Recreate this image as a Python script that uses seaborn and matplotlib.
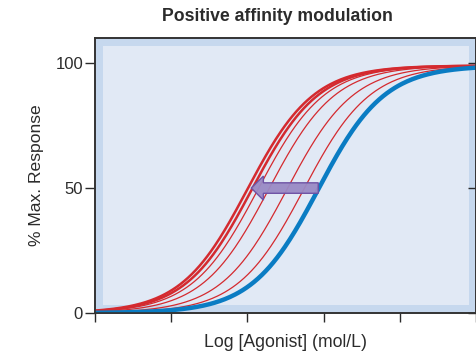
import numpy as np
import pandas as pd
import matplotlib as mpl
mpl.use("Agg")
import matplotlib.pyplot as plt
from matplotlib.patches import Rectangle, FancyArrow
import seaborn as sns

# Concentration-response curves (log EC50, Hill slope 1)
control_ec50 = 2.93
modulated_ec50 = [2.0, 2.06, 2.14, 2.28, 2.52, 2.74]
modulated_widths = [1.8, 1.8, 0.9, 0.9, 0.9, 0.9]
emax = 99.0
x_ticks = [0, 1, 2, 3, 4, 5]
y_ticks = [0, 50, 100]

log_conc = np.linspace(0, 5, 300)


def hill(x, ec50):
    return emax / (1 + 10 ** (ec50 - x))


rows = []
for i, ec in enumerate(modulated_ec50):
    rows.append(pd.DataFrame({"x": log_conc, "y": hill(log_conc, ec), "curve": f"mod{i}"}))
df_mod = pd.concat(rows)
df_ctrl = pd.DataFrame({"x": log_conc, "y": hill(log_conc, control_ec50)})

sns.set_style("white")
plt.rcParams['font.family'] = ['Liberation Sans', 'DejaVu Sans']
text_col = "#2b2b2b"

fig = plt.figure(figsize=(4.77, 3.59), dpi=100)
ax = fig.add_axes([0.199, 0.128, 0.799, 0.766])

# light blue plot background with a darker band round the edge
ax.set_facecolor("#c6d8ee")
ax.add_patch(Rectangle((0.021, 0.029), 0.961, 0.942, transform=ax.transAxes,
                       facecolor="#e1e9f5", edgecolor="none", zorder=0))

for i, ec in enumerate(modulated_ec50):
    sns.lineplot(data=df_mod[df_mod["curve"] == f"mod{i}"], x="x", y="y", ax=ax,
                 color="#d42a2f", linewidth=modulated_widths[i], zorder=3)
sns.lineplot(data=df_ctrl, x="x", y="y", ax=ax, color="#0a7cc3", linewidth=3.2, zorder=4)

# arrow showing the leftward shift
tip = modulated_ec50[1] - 0.01
ax.add_patch(FancyArrow(control_ec50, 50, tip - control_ec50, 0, width=4.2,
                        head_width=9.6, head_length=0.16, length_includes_head=True,
                        facecolor="#9a8ac5", edgecolor="#6b4fa3", linewidth=1.0,
                        alpha=0.95, zorder=5))

ax.set_xlim(0, 5)
ax.set_ylim(0, 110)
ax.set_xticks(x_ticks)
ax.set_xticklabels([])
ax.set_yticks(y_ticks)
ax.tick_params(axis="both", labelsize=12, colors=text_col, width=1.0)
ax.tick_params(axis="x", direction="out", length=6.5, bottom=True)
ax.tick_params(axis="y", direction="out", length=7, pad=1.5, left=True)

# inward ticks on the right spine
ax2 = ax.twinx()
ax2.set_ylim(ax.get_ylim())
ax2.set_yticks(y_ticks)
ax2.set_yticklabels([])
ax2.tick_params(axis="y", direction="in", length=6, width=1.0, right=True, colors=text_col)
ax2.grid(False)

for a in (ax, ax2):
    for s in a.spines.values():
        s.set_color("#333333")
        s.set_linewidth(1.2)

ax.set_title("Positive affinity modulation", fontsize=12.7, fontweight="bold",
             pad=12, x=0.478, color=text_col)
ax.set_xlabel("Log [Agonist] (mol/L)", fontsize=12.7, labelpad=5, color=text_col)
ax.set_ylabel("% Max. Response", fontsize=12.6, labelpad=8, color=text_col)

fig.savefig("out.png", dpi=100)
